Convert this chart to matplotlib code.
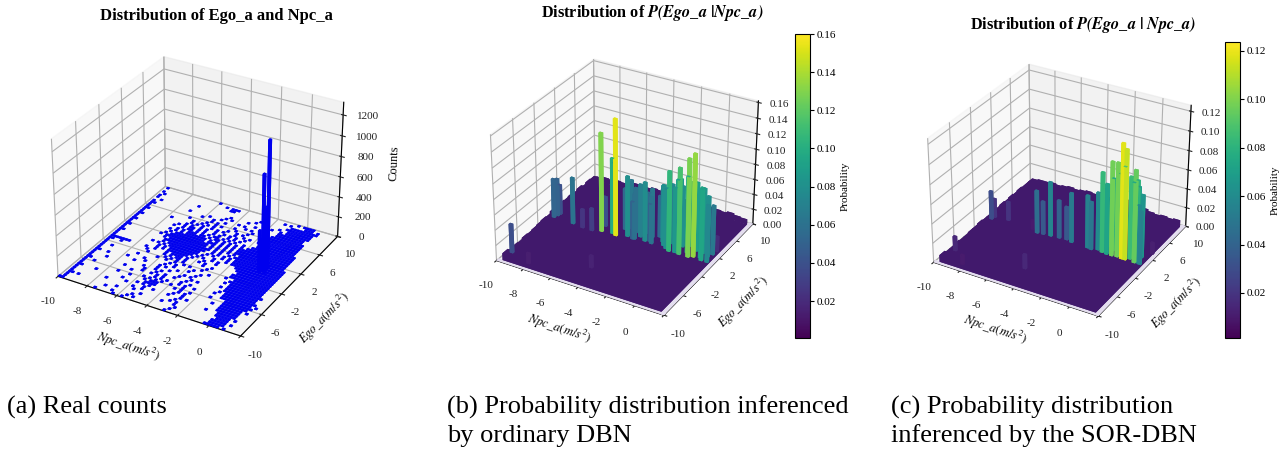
import numpy as np
import matplotlib
matplotlib.use('Agg')
import matplotlib.pyplot as plt

plt.rcParams['font.family'] = ['Liberation Serif', 'DejaVu Serif']
plt.rcParams['mathtext.fontset'] = 'stix'

# axis ticks
x_ticks = [-10, -8, -6, -4, -2, 0, 2]
x_labels = ['-10', '-8', '-6', '-4', '-2', '0', '']
y_ticks = [-10, -6, -2, 2, 6, 10]
y_labels = ['-10', '-6', '-2', '2', '6', '10']
z_ticks_a = [0, 200, 400, 600, 800, 1000, 1200]
z_ticks_b = [0, 0.02, 0.04, 0.06, 0.08, 0.10, 0.12, 0.14, 0.16]
z_ticks_c = [0, 0.02, 0.04, 0.06, 0.08, 0.10, 0.12]
cbar_ticks_b = [0.02, 0.04, 0.06, 0.08, 0.10, 0.12, 0.14, 0.16]
cbar_ticks_c = [0.02, 0.04, 0.06, 0.08, 0.10, 0.12]

# panel a: occupied cells, top row is Ego_a = 9.6, bottom row is -10
# columns start at Npc_a = -10, one char = 0.2, one row = 0.4
count_rows = [
    ".#........ .......... #......... .......... .......#.# ###.......",
    ".......... .......... ...#.###.. .......... ...#.#.... ###.#.....",
    ".#........ .......... .....##... .......... ......#### #####.....",
    "..#....... .......... .......... ......#... .....##### ####......",
    ".#........ .....#.... .......... .....#.... ...#..#### ####......",
    ".#........ .......... .......#.. ...#...... .#..#.#### ####......",
    "...#...... .......... ......#.#. ......#... ....###### ###.......",
    ".#........ ....#..... .#...#.... .#.#...... ....###### ###.......",
    ".##....... .........# ...#...#.. ....#.#... ...####### ####......",
    ".#........ .......... ...#.#.... .#.....#.. ..######## ####......",
    ".#........ ......#... ..#..#.#.. ..#...#... .######### ####......",
    ".##....... ........#. .#.#.#.... #..#.#.... .######### ####......",
    ".#........ .#......#. #.#..#.#.# ...#..#.#. .######### ####......",
    ".#........ .......#.# ..#.#..#.. #.#.#..#.. ..######## ####......",
    ".##....... .....#.#.# #.#.#..#.# ..#.#.#... ..######## #####.....",
    ".#........ ....#..#.# #.#.#.#.## .#.#.#..#. .######### #####.....",
    ".#........ ......#.#. ###.##.#.# #.#.#.#.#. ########## #####.....",
    ".##....... ....#.#.#. #######.#. #.#.#.#.## ########## #####.....",
    ".#........ .....#.### #######.## #.#.#.#.## ########## #####.....",
    ".#........ ....#.#### #########. #.#.#.#.## ########## #####.....",
    ".##....... ...#.##### #########. #.#.#.#.#. ########## #####.....",
    ".#........ .....#.### ########## #.#.#..#.# ########## ######....",
    ".#........ ......#### ########## ..#.#.#.#. ########## ######....",
    ".##....... ......#.## #########. .#.#..#.#. ########## ######....",
    ".#........ ...#.#.#.# #########. #...#...#. ########## ######....",
    ".#........ ......#.#. ########.# .#..#.#... ..######## ######....",
    ".#........ ......#.#. #######.#. ..#...#... ...####### ######....",
    ".#######.. ...#..#... #.####.#.. .#.#...... ....###### ######....",
    ".##..#.... ....#..... #.#.##.#.. ...#..#... ...####### ######....",
    ".#........ .....#.... .#.#.#.#.. .....#.... ...####### ######....",
    ".#........ .........# ..#..#..#. #...#..... ..#..##### ######....",
    ".#..#..... ...#...... ....#.#... ..#....#.. ....###### ######....",
    ".#........ ......#... ...#..#... .#...#.... ...#.##### ######....",
    ".#........ .#.....#.. ..#.#...#. ....#..... .....##### ######....",
    ".##..#.... ....#..... ..#...#... .#.#...... ...#.##### #######...",
    ".#........ ........#. ..#.#..... #...#.#... .....##### ######....",
    ".#....#... .........# ...#..#..# ...#...... ....#.#### ######....",
    ".#........ ...#.....# ..#.#.#... ..#..#.... ...#..#### #######...",
    ".##....... ......#... ....#.#.#. ..#.#..#.. ......#### ######.#..",
    ".#..#..... .......... .#.#.#.#.. #...#..... ...#....## #######...",
    ".#........ ...#...#.. ..#.###... ..#.#..#.. ........## ######....",
    ".#........ .......... ...####... ....#.#... .....#..## #####.#...",
    ".##....#.. ......#... .#.#.#.... ...#..#... ........## #####.....",
    ".#........ ........#. ....#..#.. ..#...#.#. ........## #####.....",
    ".#........ ..#....... .#..#..... .....#.... .....#...# #####.....",
    ".#........ .......... ..#....... ....#.#... .........# ####.#....",
    ".##.#..... .......#.. .....#.... ..#...#... .......... ####......",
    ".#........ ....#..... ...#...... .......#.. .........# ####.#....",
    ".#........ .......#.. ..#.#..... ......#... .........# ####......",
    "##........ ..#.....#. .#........ .....#.... ........## ###.#.....",
]
floor_count = 8
spike_x = [-0.03, -0.15, -0.07, -0.25, 0.05]
spike_y = [1.1, 0.5, 0.9, 0.1, 0.3]
spike_z = [1250, 950, 620, 420, 300]

# panel b: tall bars
b_x = [-6.2, -5.15, -5.45, -5.65, -9.8, -9.8, -9.7, -9.65, -8.3, -4.44, -3.2, -3.7, -1.3, -0.57, 0.07,
       0.36, 0.98, -0.2, 0.55, 1.39, -2.15, -2.7, -1.0, -1.9, -7.5, -6.8, -6.3, -8.2, -4.56, 0.8, -0.9,
       -1.6, -3.9, -2.9, -4.0, 1.35,
       -1.1, -0.8, -0.35, 0.2, 0.5, 0.7, 1.15, -2.4, -2.0, -1.7, -1.45, -5.0, -4.7, -4.2, -3.4, -3.0, -2.6, 1.3]
b_y = [0.4, 0.4, 0.6, 1.5, -8.0, 0.3, 0.8, 1.2, 0.2, 0.9, 1.0, 1.5, 0.5, 0.5, 0.5,
       0.8, 0.6, 1.2, 2.0, 0.6, 1.8, 0.9, 1.5, 1.2, 0.0, 0.0, 1.5, -8.9, -6.3, 1.0, 0.6,
       0.8, 0.8, 1.2, 0.7, 3.0,
       2.5, 2.0, 2.5, 2.0, 2.5, 2.0, 1.5, 2.5, 2.0, 2.5, 2.0, 2.0, 2.5, 2.0, 2.5, 2.0, 2.5, 2.2]
b_z = [0.130, 0.153, 0.100, 0.088, 0.038, 0.052, 0.050, 0.040, 0.062, 0.080, 0.078, 0.070, 0.105, 0.113, 0.128,
       0.134, 0.095, 0.100, 0.085, 0.075, 0.075, 0.062, 0.090, 0.080, 0.025, 0.030, 0.040, 0.014, 0.016, 0.090, 0.085,
       0.080, 0.060, 0.050, 0.050, 0.020,
       0.085, 0.080, 0.085, 0.090, 0.075, 0.085, 0.080, 0.065, 0.070, 0.075, 0.070, 0.055, 0.065, 0.060, 0.055, 0.065, 0.055, 0.065]

# panel c: tall bars
c_x = [0.04, 0.29, -0.68, -0.32, -1.4, -1.04, 0.96, 0.53, 0.82, 1.37, 1.2, -2.47, -2.18, -1.77, -6.23,
       -5.8, -5.27, -4.66, -3.7, -4.13, -9.77, -9.7, -8.7, -9.7, -8.4, -4.7, -6.7, 1.5,
       -0.9, -0.5, -0.1, 0.7, 1.1, -1.6, -1.2, 0.45]
c_y = [0.5, 0.5, 0.5, 0.6, 0.6, 0.5, 0.5, 0.9, 1.5, 0.5, 0.6, 0.6, 0.5, 0.8, 0.5,
       0.6, 0.7, 0.8, 0.7, 0.9, 0.5, 1.0, 1.2, -7.0, -8.9, -6.3, 0.9, 3.0,
       1.5, 1.8, 1.5, 2.2, 1.8, 1.8, 2.0, 1.8]
c_z = [0.118, 0.113, 0.097, 0.097, 0.083, 0.073, 0.095, 0.085, 0.080, 0.055, 0.060, 0.055, 0.050, 0.060, 0.045,
       0.035, 0.057, 0.040, 0.052, 0.035, 0.030, 0.020, 0.020, 0.015, 0.010, 0.015, 0.010, 0.012,
       0.075, 0.080, 0.090, 0.070, 0.065, 0.060, 0.065, 0.075]

# height of the low plate along its back and left rims
back_rim_b = [0.006, 0.008, 0.007, 0.009, 0.008, 0.010, 0.012, 0.010, 0.011, 0.013, 0.012, 0.010, 0.012, 0.011,
              0.010, 0.012, 0.013, 0.011, 0.010, 0.009, 0.008, 0.010, 0.008, 0.007]
left_rim_b = [0.009, 0.006, 0.007, 0.006, 0.008, 0.007, 0.008, 0.009, 0.010, 0.009, 0.012, 0.011, 0.012, 0.011,
              0.012, 0.010, 0.012, 0.009, 0.011, 0.010]
back_rim_c = [0.006, 0.007, 0.007, 0.008, 0.007, 0.008, 0.009, 0.008, 0.009, 0.010, 0.009, 0.009, 0.010, 0.011,
              0.012, 0.013, 0.012, 0.010, 0.009, 0.007, 0.006, 0.007, 0.006, 0.007]
left_rim_c = [0.007, 0.005, 0.005, 0.006, 0.005, 0.005, 0.006, 0.006, 0.007, 0.006, 0.006, 0.007, 0.006, 0.007,
              0.006, 0.007, 0.006, 0.007, 0.006, 0.006]
plate_level = 0.006

plate_color = '#41196c'
band_color = '#e4deef'


def px_rect(cx, cy, side):
    # square axes given in picture pixels
    return [(cx - side / 2) / 1286, (449 - cy - side / 2) / 449, side / 1286, side / 449]


def style_axes(ax, z_ticks, z_labels, z_top, z_pad):
    ax.computed_zorder = False
    ax.view_init(elev=30, azim=-60)
    ax.set_xlim(-10, 2)
    ax.set_ylim(-10, 10)
    ax.set_zlim(0, z_top)
    ax.set_xticks(x_ticks)
    ax.set_xticklabels(x_labels)
    ax.set_yticks(y_ticks)
    ax.set_yticklabels(y_labels)
    ax.set_zticks(z_ticks)
    ax.set_zticklabels(z_labels)
    ax.tick_params(labelsize=8, pad=1, colors='#222222')
    ax.xaxis.set_tick_params(pad=3)
    ax.zaxis.set_tick_params(pad=z_pad)
    ax.set_xlabel(r'$Npc\_a(m/s^2)$', fontsize=9, labelpad=0)
    ax.set_ylabel(r'$Ego\_a(m/s^2)$', fontsize=9, labelpad=1)


def prob_panel(rect, cbar_rect, xs, ys, zs, back_rim, left_rim, z_ticks, cbar_ticks, vmin, vmax, z_top):
    ax = fig.add_axes(rect, projection='3d')
    style_axes(ax, z_ticks, ['%.2f' % t for t in z_ticks], z_top, 1)
    norm = plt.Normalize(vmin=vmin, vmax=vmax)
    cmap = plt.cm.viridis

    # pale strips on the floor, rim cells, then the plate, then the bars on top
    ax.bar3d([-10], [-10], [0], [12], [0.4], [0.0005], color=band_color, shade=False, zorder=0.5)
    ax.bar3d([1.7], [-10], [0], [0.3], [20], [0.0005], color=band_color, shade=False, zorder=0.6)
    xb = np.linspace(-9.7, 1.2, len(back_rim))
    ax.bar3d(xb, np.full(len(xb), 8.6), 0, 0.5, 1.0, back_rim, color=plate_color, shade=False, zorder=1)
    yl = np.linspace(-9.6, 8.0, len(left_rim))
    ax.bar3d(np.full(len(yl), -9.7), yl, 0, 0.5, 1.0, left_rim, color=plate_color, shade=False, zorder=1.2)
    ax.bar3d([-9.2], [-9.6], [0], [10.9], [18.2], [plate_level], color=plate_color, shade=False, zorder=1.5)

    xs, ys, zs = np.array(xs), np.array(ys), np.array(zs)
    ax.bar3d(xs, ys, 0, 0.24, 0.3, zs, color=cmap(norm(zs)), shade=False, zorder=2)

    cax = fig.add_axes(cbar_rect)
    sm = plt.cm.ScalarMappable(cmap=cmap, norm=norm)
    cb = fig.colorbar(sm, cax=cax)
    cb.set_ticks(cbar_ticks)
    cb.set_ticklabels(['%.2f' % t for t in cbar_ticks])
    cb.ax.tick_params(labelsize=8, pad=2, length=3)
    cb.set_label('Probability', fontsize=8, labelpad=3)
    return ax


fig = plt.figure(figsize=(12.86, 4.49), dpi=100)

# panel a
ax1 = fig.add_axes(px_rect(196, 194, 325), projection='3d')
style_axes(ax1, z_ticks_a, [str(t) for t in z_ticks_a], 1320, 3)
ax1.set_zlabel('Counts', fontsize=9, labelpad=3)
cell_x, cell_y = [], []
for r, row in enumerate(count_rows):
    for c, ch in enumerate(row.replace(' ', '')):
        if ch == '#':
            cell_x.append(-10 + 0.2 * c)
            cell_y.append(9.6 - 0.4 * r)
ax1.bar3d(cell_x, cell_y, 0, 0.17, 0.28, floor_count, color='#0000ee', shade=False, zorder=1)
ax1.bar3d(spike_x, spike_y, 0, 0.15, 0.3, spike_z, color='#0000ee', shade=False, zorder=2)

# panels b and c
prob_panel(px_rect(623, 185, 298), [795 / 1286, (449 - 338) / 449, 15 / 1286, 304 / 449],
           b_x, b_y, b_z, back_rim_b, left_rim_b, z_ticks_b, cbar_ticks_b, 0.0006, 0.16, 0.162)
prob_panel(px_rect(1058, 188, 293), [1225 / 1286, (449 - 338) / 449, 15 / 1286, 296 / 449],
           c_x, c_y, c_z, back_rim_c, left_rim_c, z_ticks_c, cbar_ticks_c, 0.0014, 0.1237, 0.126)

# titles
fig.text(216 / 1286, 1 - 16 / 449, 'Distribution of Ego_a and Npc_a', fontsize=12, fontweight='bold', ha='center', va='center')
fig.text(652 / 1286, 1 - 13 / 449, r'Distribution of $\mathbfit{P(Ego\_a\ |Npc\_a)}$', fontsize=11.7, fontweight='bold', ha='center', va='center')
fig.text(1083 / 1286, 1 - 25 / 449, r'Distribution of $\mathbfit{P(Ego\_a\ |\ Npc\_a)}$', fontsize=11.7, fontweight='bold', ha='center', va='center')

# captions under the panels
fig.text(7 / 1286, 1 - 407 / 449, '(a) Real counts', fontsize=19, va='center')
fig.text(447 / 1286, 1 - 407 / 449, '(b) Probability distribution inferenced', fontsize=19, va='center')
fig.text(447 / 1286, 1 - 436 / 449, 'by ordinary DBN', fontsize=19, va='center')
fig.text(891 / 1286, 1 - 407 / 449, '(c) Probability distribution', fontsize=19, va='center')
fig.text(891 / 1286, 1 - 436 / 449, 'inferenced by the SOR-DBN', fontsize=19, va='center')

fig.savefig('out.png', dpi=100)
